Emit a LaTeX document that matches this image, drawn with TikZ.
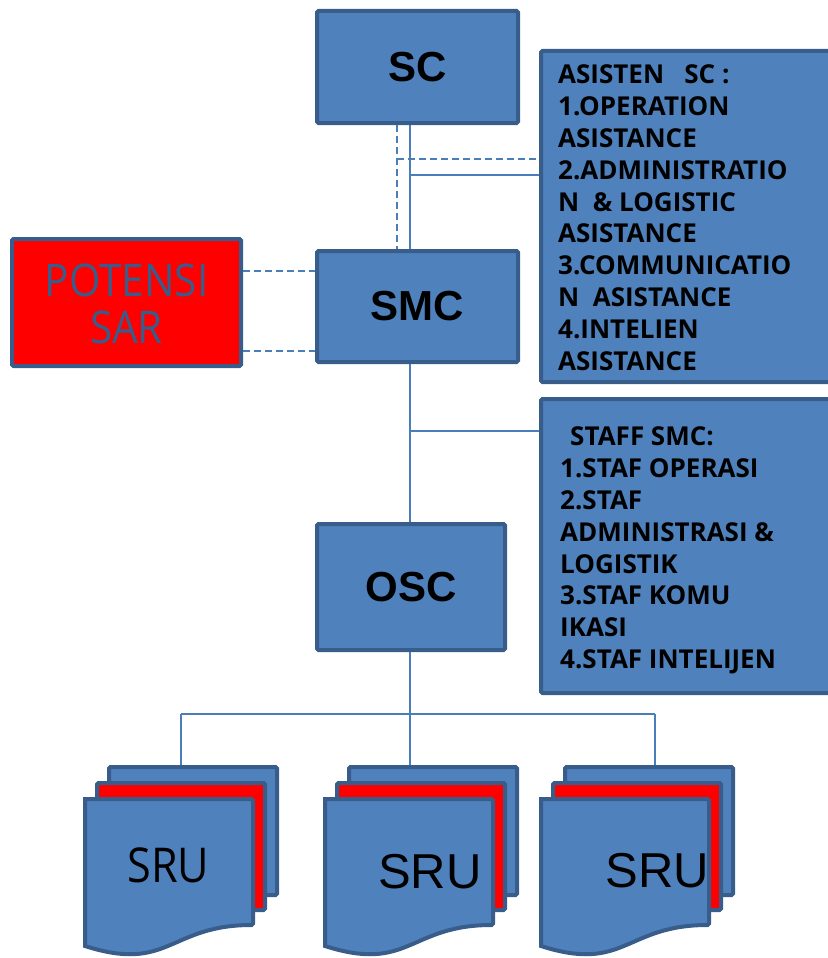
\documentclass[tikz,border=0pt]{standalone}
\usepackage{fontspec}
\setmainfont{Liberation Sans}
\newfontfamily\osans{Open Sans}
\newfontfamily\lsans[FakeStretch=0.9]{Open Sans}
\definecolor{boxfill}{HTML}{4F81BD}
\definecolor{boxline}{HTML}{385D8A}
\definecolor{conn}{HTML}{4A7EBB}
\definecolor{sred}{HTML}{FF0000}
\tikzset{
  box/.style={draw=boxline, fill=boxfill, line width=4pt, rounded corners=1.5pt, inner sep=0pt},
  redbox/.style={box, fill=sred},
  title/.style={font=\bfseries\fontsize{42}{48}\selectfont, text=black},
  listtext/.style={font=\osans\bfseries\fontsize{26}{31.9}\selectfont, align=left, anchor=north west, inner sep=0pt, text=black},
  link/.style={draw=conn, line width=1.5pt},
  dlink/.style={link, dash pattern=on 7pt off 4pt},
}
\begin{document}
\begin{tikzpicture}[x=1pt,y=-1pt]
\useasboundingbox (0,0) rectangle (827,958);
% main boxes
\node[box, minimum width=201pt, minimum height=112pt] (SC) at (417.5,67) {};
\node[title] at (SC.center) {SC};
\node[box, minimum width=201pt, minimum height=111pt] (SMC) at (417.5,306.5) {};
\node[title] at (SMC.center) {SMC};
\node[box, minimum width=188pt, minimum height=126pt] (OSC) at (411,587) {};
\node[title] at (OSC.center) {OSC};
\node[redbox, minimum width=229pt, minimum height=127pt] (POT) at (126.5,302.5) {};
\node[font=\lsans\fontsize{45}{47}\selectfont, text=boxline, align=center] (POTt) at (126.5,304) {POTENSI\\SAR};
\node[box, minimum width=299pt, minimum height=331pt] (ASIS) at (690.5,216.5) {};
\node[listtext] (ASIStxt) at (558,64.4) {ASISTEN\ \ \ SC :\\1.OPERATION\\ASISTANCE\\2.ADMINISTRATIO\\N \ \& LOGISTIC\\ASISTANCE\\3.COMMUNICATIO\\N \ ASISTANCE\\4.INTELIEN\\ASISTANCE};
\node[box, minimum width=299pt, minimum height=294pt] (STAFF) at (690.5,546) {};
\node[listtext] (STAFFtxt) at (560,426.4) {\hspace*{10pt}STAFF SMC:\\1.STAF OPERASI\\2.STAF\\ADMINISTRASI \&\\LOGISTIK\\3.STAF KOMU\\IKASI\\4.STAF INTELIJEN};
% connectors top
\coordinate (vs) at (410,0);
\coordinate (vd) at (397,0);
\coordinate (hd) at (0,159);
\coordinate (hs) at (0,175);
\draw[link] (vs |- SC.south) -- (vs |- SMC.north);
\draw[dlink] (vd |- SC.south) -- (vd |- SMC.north);
\draw[dlink] (vd |- hd) -- (ASIS.west |- hd);
\draw[link] (vs |- hs) -- (ASIS.west |- hs);
\coordinate (p1) at (0,271);
\coordinate (p2) at (0,351);
\draw[dlink] (POT.east |- p1) -- (SMC.west |- p1);
\draw[dlink] (POT.east |- p2) -- (SMC.west |- p2);
\coordinate (hst) at (0,431);
\draw[link] (vs |- SMC.south) -- (vs |- OSC.north);
\draw[link] (vs |- hst) -- (STAFF.west |- hst);
% SRU groups
\coordinate (j1) at (181,714);
\coordinate (j2) at (410,714);
\coordinate (j3) at (655,714);
\draw[link] (vs |- OSC.south) -- (j2);
\draw[link] (j1) -- (j3);
\foreach \i/\L in {1/85, 2/325, 3/541} {
  \node[box, minimum width=168pt, minimum height=128pt] (b\i) at (\L+24+84, 831) {};
  \node[redbox, minimum width=168pt, minimum height=127pt] (m\i) at (\L+12+84, 846.5) {};
  \path[draw=boxline, fill=boxfill, line width=4pt, rounded corners=1.5pt]
    (\L,799) -- (\L+168,799) -- (\L+168,925)
    [sharp corners] .. controls (\L+84,925) and (\L+84,973) .. (\L,946) -- cycle;
}
\draw[link] (j1) -- (j1 |- b1.north);
\draw[link] (j2) -- (j2 |- b2.north);
\draw[link] (j3) -- (j3 |- b3.north);
\node[font=\lsans\fontsize{48}{50}\selectfont, anchor=base, inner sep=0pt] (s1) at (168.5,882) {SRU};
\node[font=\fontsize{49}{50}\selectfont, anchor=base, inner sep=0pt] (s2) at (430,888) {SRU};
\node[font=\fontsize{49}{50}\selectfont, anchor=base, inner sep=0pt] (s3) at (657.5,887) {SRU};
\end{tikzpicture}
\end{document}
